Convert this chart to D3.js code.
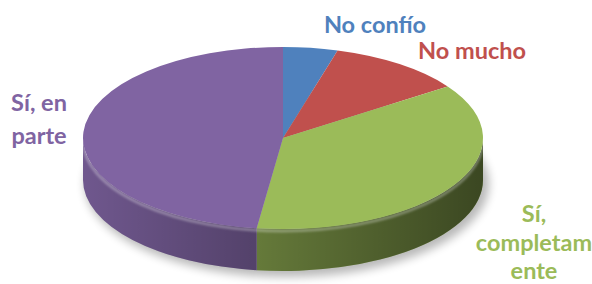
<!DOCTYPE html>
<html>
<head>
<meta charset="utf-8">
<script src="https://cdn.jsdelivr.net/npm/d3@7"></script>
<style>
  html, body { margin: 0; padding: 0; background: #fff; }
  svg { display: block; }
  .lbl { font-family: Lato, "Open Sans", sans-serif; font-weight: 700; }
</style>
</head>
<body>
<div id="chart"></div>
<script>
  // ---------- Data ----------
  const categories = ["No confío", "No mucho", "Sí, completamente", "Sí, en parte"];
  const shares = [4.4, 11.0, 36.7, 47.9];
  // wrapped label text, as in the picture
  const labelLines = [["No confío"], ["No mucho"], ["Sí,", "completam", "ente"], ["Sí, en", "parte"]];
  const sliceColors = ["#4F81BD", "#C0504D", "#9BBB59", "#8064A2"];

  // ---------- Layout ----------
  const W = 592, H = 284;
  const cx = 283, cy = 138, rx = 200, ry = 91, depth = 42;
  // label anchors: [center x, first baseline y, line height]
  const labelLayout = [
    [375, 33, 0],
    [472, 59, 0],
    [534, 222, 28.5],
    [39, 111, 33]
  ];

  const svg = d3.select("#chart").append("svg")
    .attr("width", W)
    .attr("height", H);

  const defs = svg.append("defs");

  defs.append("filter")
    .attr("id", "shadowBlur")
    .attr("x", "-20%").attr("y", "-20%").attr("width", "140%").attr("height", "140%")
    .append("feGaussianBlur").attr("stdDeviation", 5);

  defs.append("filter")
    .attr("id", "softBlur")
    .append("feGaussianBlur").attr("stdDeviation", 1.2);

  // side lighting: light comes from the upper left
  const sideGrad = defs.append("linearGradient")
    .attr("id", "sideShade")
    .attr("gradientUnits", "userSpaceOnUse")
    .attr("x1", cx - rx).attr("y1", 0)
    .attr("x2", cx + rx).attr("y2", 0);
  sideGrad.append("stop").attr("offset", "0%").attr("stop-color", "#000").attr("stop-opacity", 0.08);
  sideGrad.append("stop").attr("offset", "45%").attr("stop-color", "#000").attr("stop-opacity", 0.32);
  sideGrad.append("stop").attr("offset", "100%").attr("stop-color", "#000").attr("stop-opacity", 0.6);

  const pie = d3.pie().sort(null).value(d => d);
  const arcs = pie(shares);

  function pt(a, dy) {
    return [cx + rx * Math.sin(a), cy - ry * Math.cos(a) + (dy || 0)];
  }

  function topPath(a0, a1) {
    const p0 = pt(a0), p1 = pt(a1);
    const large = (a1 - a0) > Math.PI ? 1 : 0;
    return `M${cx},${cy}L${p0[0]},${p0[1]}A${rx},${ry} 0 ${large} 1 ${p1[0]},${p1[1]}Z`;
  }

  function sidePath(a0, a1) {
    const s = Math.max(a0, Math.PI / 2), e = Math.min(a1, Math.PI * 1.5);
    if (e <= s) return null;
    const p0 = pt(s), p1 = pt(e), q0 = pt(s, depth), q1 = pt(e, depth);
    return `M${p0[0]},${p0[1]}A${rx},${ry} 0 0 1 ${p1[0]},${p1[1]}` +
      `L${q1[0]},${q1[1]}A${rx},${ry} 0 0 0 ${q0[0]},${q0[1]}Z`;
  }

  // ---------- Shadow ----------
  svg.append("ellipse")
    .attr("cx", cx + 4)
    .attr("cy", cy + depth + 4)
    .attr("rx", rx + 2)
    .attr("ry", ry + 2)
    .attr("fill", "#000")
    .attr("opacity", 0.28)
    .attr("filter", "url(#shadowBlur)");

  // ---------- Sides ----------
  const sides = svg.append("g").attr("class", "sides");
  arcs.forEach((d, i) => {
    const p = sidePath(d.startAngle, d.endAngle);
    if (!p) return;
    sides.append("path").attr("d", p).attr("fill", d3.color(sliceColors[i]).darker(0.15));
    sides.append("path").attr("d", p).attr("fill", "url(#sideShade)");
  });

  // rim highlight along the front edge
  const r0 = pt(Math.PI / 2, 2), r1 = pt(Math.PI * 1.5, 2);
  svg.append("path")
    .attr("d", `M${r0[0]},${r0[1]}A${rx},${ry} 0 0 1 ${r1[0]},${r1[1]}`)
    .attr("fill", "none")
    .attr("stroke", "#fff")
    .attr("stroke-opacity", 0.3)
    .attr("stroke-width", 3)
    .attr("filter", "url(#softBlur)");

  // ---------- Top ----------
  svg.append("g").attr("class", "tops")
    .selectAll("path")
    .data(arcs)
    .join("path")
    .attr("d", d => topPath(d.startAngle, d.endAngle))
    .attr("fill", (d, i) => sliceColors[i]);

  // ---------- Labels ----------
  const labels = svg.append("g").attr("class", "labels");
  labelLines.forEach((lines, i) => {
    const [lx, ly, lh] = labelLayout[i];
    const t = labels.append("text")
      .attr("class", "lbl")
      .attr("text-anchor", "middle")
      .attr("font-size", 23.5)
      .attr("fill", sliceColors[i]);
    lines.forEach((line, j) => {
      t.append("tspan").attr("x", lx).attr("y", ly + j * lh).text(line);
    });
  });
</script>
</body>
</html>
